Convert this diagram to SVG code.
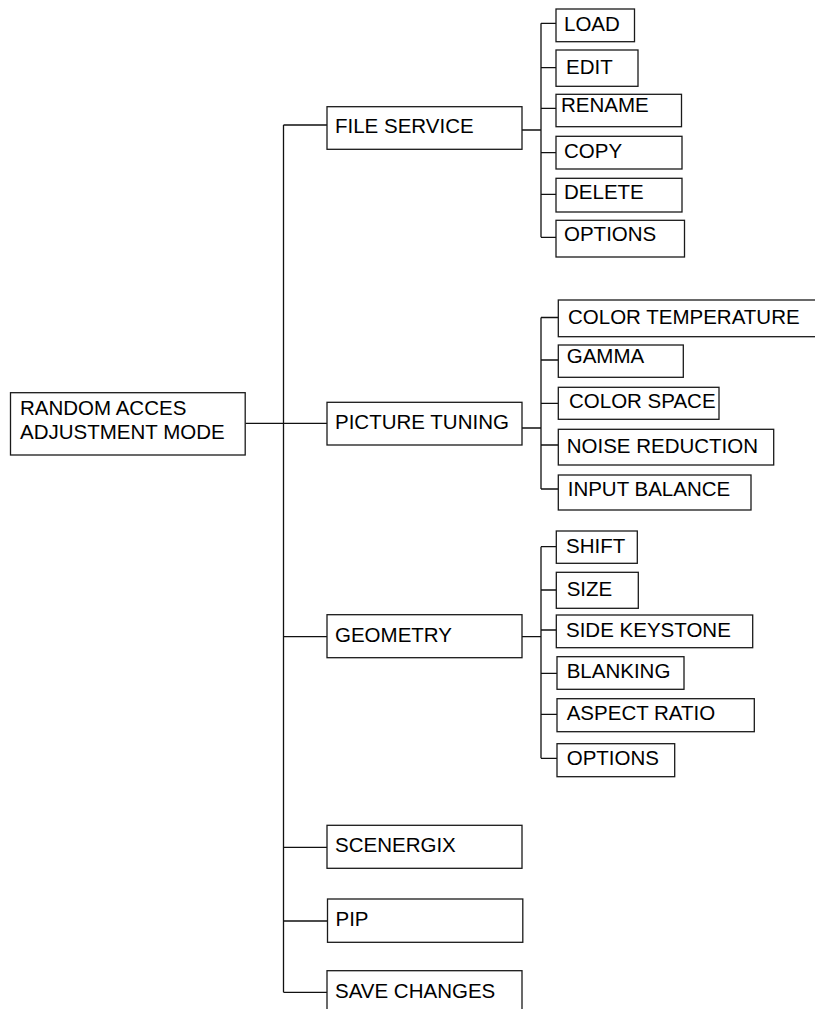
<svg xmlns="http://www.w3.org/2000/svg" width="815" height="1009" viewBox="0 0 815 1009">
<style>
.box{fill:#fff;stroke:#1a1a1a;stroke-width:1.3}
.t{font-family:"Liberation Sans",Arial,sans-serif;font-size:20.5px;fill:#000}
.c{fill:none;stroke:#111;stroke-width:1.3}
</style>
<rect width="815" height="1009" fill="#fff"/>
<g id="connectors">
<path class="c" d="M245.5 423.3H283.5M283.5 125V992.3M283.5 125H327M283.5 423.3H327M283.5 636.7H327M283.5 847.3H327M283.5 921H327M283.5 992.3H327"/>
<path class="c" d="M522 130H541M541 23.3V237.3M541 23.3H556M541 67.7H556M541 108.3H556M541 152.7H556M541 194.3H556M541 237.3H556"/>
<path class="c" d="M522 428H541M541 317.5V489M541 317.5H558.3M541 360H558.3M541 403.3H558.3M541 445H558.3M541 489H558.3"/>
<path class="c" d="M522 636.7H541M541 546.7V758.3M541 546.7H556.3M541 590H556.3M541 630H556.3M541 673.3H557M541 714.3H557M541 758.3H557"/>
</g>
<g id="root"><rect class="box" x="10.5" y="392.7" width="234.7" height="62.3"/><text class="t" x="20" y="415">RANDOM ACCES</text><text class="t" x="20" y="439">ADJUSTMENT MODE</text></g>
<g id="file-service"><rect class="box" x="327" y="106.7" width="195" height="42.6"/><text class="t" x="335" y="133.3">FILE SERVICE</text></g>
<g id="picture-tuning"><rect class="box" x="327" y="402.3" width="195" height="42.7"/><text class="t" x="335" y="429.3">PICTURE TUNING</text></g>
<g id="geometry"><rect class="box" x="327" y="614.7" width="195" height="43"/><text class="t" x="335" y="641.7">GEOMETRY</text></g>
<g id="scenergix"><rect class="box" x="327" y="825.3" width="195" height="43"/><text class="t" x="335" y="852">SCENERGIX</text></g>
<g id="pip"><rect class="box" x="327.5" y="899" width="195.3" height="43.3"/><text class="t" x="335.5" y="925.7">PIP</text></g>
<g id="save-changes"><rect class="box" x="327" y="970.7" width="195" height="45"/><text class="t" x="335" y="998.3">SAVE CHANGES</text></g>
<g id="load"><rect class="box" x="556" y="9" width="78.5" height="32.7"/><text class="t" x="564" y="30.7">LOAD</text></g>
<g id="edit"><rect class="box" x="556" y="50" width="82" height="36.3"/><text class="t" x="566" y="74">EDIT</text></g>
<g id="rename"><rect class="box" x="556" y="94.3" width="125.5" height="32.4"/><text class="t" x="561" y="111.7">RENAME</text></g>
<g id="copy"><rect class="box" x="556" y="136.3" width="126" height="32.7"/><text class="t" x="564" y="157.7">COPY</text></g>
<g id="delete"><rect class="box" x="556" y="178.3" width="126" height="33.7"/><text class="t" x="564" y="199.3">DELETE</text></g>
<g id="options-file"><rect class="box" x="556" y="220.3" width="128.5" height="36.7"/><text class="t" x="564" y="240.7">OPTIONS</text></g>
<g id="color-temperature"><rect class="box" x="558.3" y="300" width="262" height="36.7"/><text class="t" x="568" y="324.3">COLOR TEMPERATURE</text></g>
<g id="gamma"><rect class="box" x="558.3" y="345" width="125" height="32.3"/><text class="t" x="566.7" y="363.3">GAMMA</text></g>
<g id="color-space"><rect class="box" x="558.3" y="387.3" width="160.7" height="32"/><text class="t" x="569" y="408.3">COLOR SPACE</text></g>
<g id="noise-reduction"><rect class="box" x="558.3" y="429.3" width="215.4" height="35.7"/><text class="t" x="566.7" y="453.3">NOISE REDUCTION</text></g>
<g id="input-balance"><rect class="box" x="558.3" y="475" width="192.7" height="35"/><text class="t" x="567.7" y="495.7">INPUT BALANCE</text></g>
<g id="shift"><rect class="box" x="556.3" y="531" width="81" height="32.3"/><text class="t" x="566" y="553.3">SHIFT</text></g>
<g id="size"><rect class="box" x="556.3" y="572.3" width="82" height="36"/><text class="t" x="566.7" y="596">SIZE</text></g>
<g id="side-keystone"><rect class="box" x="556.3" y="615" width="196.4" height="32.7"/><text class="t" x="566" y="636.7">SIDE KEYSTONE</text></g>
<g id="blanking"><rect class="box" x="557" y="656.7" width="127" height="32.6"/><text class="t" x="566.7" y="678.3">BLANKING</text></g>
<g id="aspect-ratio"><rect class="box" x="557" y="698.7" width="197.3" height="33"/><text class="t" x="566.7" y="720">ASPECT RATIO</text></g>
<g id="options-geometry"><rect class="box" x="557" y="743.7" width="117.7" height="33"/><text class="t" x="566.7" y="765">OPTIONS</text></g>
</svg>
